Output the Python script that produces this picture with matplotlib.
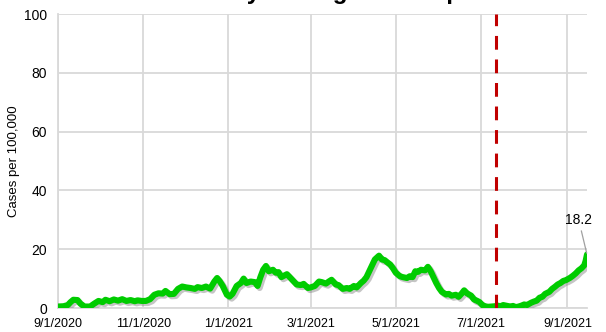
import matplotlib
matplotlib.use('Agg')
import matplotlib.pyplot as plt
import matplotlib.patheffects as pe
import numpy as np
import pandas as pd

plt.rcParams['font.family'] = ['Liberation Sans Narrow', 'Liberation Sans', 'DejaVu Sans']

# daily average case rate, sampled every few days from 9/1/2020
start_date = pd.Timestamp('2020-09-01')
days_since_start = [
    0, 4, 7, 9, 11, 14, 16, 19, 23, 26, 29, 32, 34, 37, 40, 43, 46, 49, 52, 55,
    57, 60, 63, 66, 69, 72, 75, 77, 80, 83, 86, 89, 92, 95, 98, 100, 103, 106, 109, 112,
    114, 116, 118, 121, 123, 125, 128, 131, 133, 135, 138, 141, 143, 145, 147, 149, 151, 154, 156, 158,
    160, 162, 164, 166, 169, 171, 174, 176, 179, 181, 184, 187, 189, 192, 194, 196, 199, 201, 204, 207,
    209, 212, 214, 217, 219, 221, 223, 225, 227, 230, 232, 234, 236, 238, 240, 242, 245, 247, 250, 252,
    254, 256, 258, 260, 263, 265, 267, 269, 271, 273, 275, 278, 280, 282, 285, 287, 289, 291, 293, 296,
    298, 300, 302, 304, 306, 308, 311, 313, 315, 317, 319, 321, 324, 326, 328, 330, 332, 334, 336, 339,
    341, 343, 345, 347, 349, 352, 354, 356, 358, 360, 362, 364, 367, 369, 371, 373, 375, 377, 378, 379,
]
cases_per_100k = [
    0.5, 0.6, 1.0, 2.0, 2.8, 2.7, 1.5, 0.5, 0.5, 1.5, 2.4, 2.0, 2.8, 2.3, 2.9, 2.5, 3.0, 2.4, 2.7, 2.3,
    2.6, 2.4, 2.4, 3.0, 4.5, 5.0, 4.9, 5.8, 4.7, 4.8, 6.5, 7.3, 7.0, 6.8, 6.5, 7.1, 6.8, 7.3, 6.6, 9.0,
    10.2, 9.0, 7.5, 4.5, 3.9, 4.8, 7.5, 8.5, 10.0, 8.5, 9.0, 8.8, 7.5, 10.5, 13.0, 14.3, 12.5, 13.0, 12.0, 12.2,
    10.5, 11.0, 11.5, 10.5, 9.0, 8.0, 7.8, 8.2, 6.8, 7.0, 7.5, 9.0, 8.8, 8.3, 9.0, 9.6, 8.0, 7.8, 6.5, 6.8,
    6.5, 7.5, 7.0, 8.5, 9.3, 10.5, 12.5, 14.5, 16.5, 17.8, 16.5, 16.3, 15.5, 14.8, 13.5, 12.0, 10.8, 10.5, 10.2, 10.8,
    10.5, 12.5, 12.3, 13.0, 12.8, 14.0, 12.5, 10.5, 8.5, 6.8, 5.5, 4.6, 4.8, 4.2, 4.5, 3.8, 4.8, 6.0, 5.0, 4.2,
    2.9, 2.5, 2.0, 1.0, 0.6, 0.4, 0.5, 0.6, 0.8, 0.6, 1.0, 0.8, 0.5, 0.7, 0.3, 0.5, 0.8, 1.2, 1.0, 1.8,
    2.2, 2.5, 3.5, 3.8, 4.8, 5.5, 6.5, 7.2, 8.0, 8.5, 9.2, 9.5, 10.3, 11.0, 11.8, 12.8, 13.5, 14.5, 16.0, 18.2,
]
tick_dates = ['2020-09-01', '2020-11-01', '2021-01-01', '2021-03-01',
              '2021-05-01', '2021-07-01', '2021-09-01']
marker_date = '2021-07-12'
y_ticks = [0, 20, 40, 60, 80, 100]
title = 'Daily Average Cases per 100K'

dates = start_date + pd.to_timedelta(days_since_start, unit='D')

fig = plt.figure(figsize=(6.06, 3.32), dpi=100)
ax = fig.add_axes([58 / 606, 1 - 308 / 332, (587 - 58) / 606, (308 - 14) / 332])

ax.plot(dates, cases_per_100k, color='#00CC00', lw=4.4, solid_joinstyle='round',
        solid_capstyle='round', zorder=3,
        path_effects=[pe.SimpleLineShadow(offset=(1.5, -1.5), shadow_color='#808080', alpha=0.45),
                      pe.Normal()])

ax.axvline(pd.Timestamp(marker_date), color='#C00000', lw=2.2, dashes=(4.5, 3.2), zorder=4)

ax.set_xlim(dates[0], dates[-1])
ax.set_ylim(0, 100)
ticks = pd.to_datetime(tick_dates)
ax.set_xticks(ticks)
ax.set_xticklabels([f'{d.month}/{d.day}/{d.year}' for d in ticks], fontsize=9)
ax.set_yticks(y_ticks)
ax.set_yticklabels([str(v) for v in y_ticks], fontsize=10)
ax.tick_params(length=0, pad=8, colors='#000000')
ax.tick_params(axis='x', pad=7)

ax.grid(True, color='#D9D9D9', lw=1.3)
ax.set_axisbelow(True)
for s in ['top', 'right']:
    ax.spines[s].set_visible(False)
for s in ['left', 'bottom']:
    ax.spines[s].set_color('#D9D9D9')
    ax.spines[s].set_linewidth(1.3)

ax.set_ylabel('Cases per 100,000', fontsize=9.5, labelpad=3)

# label for the latest value
ax.annotate(f'{cases_per_100k[-1]:.1f}', xy=(dates[-1], cases_per_100k[-1]),
            xytext=(-6, 20), textcoords='offset points', ha='center', va='bottom',
            fontsize=10, arrowprops=dict(arrowstyle='-', color='#A0A0A0', lw=0.9,
                                         shrinkA=1, shrinkB=1))

# title sits mostly above the canvas; line up the "y" of "Daily" at x=258px
title_kw = dict(fontsize=17.5, fontweight='bold', family=['Liberation Sans', 'DejaVu Sans'])
renderer = fig.canvas.get_renderer()
probe = fig.text(0, 0, 'Dail', **title_kw)
w_lead = probe.get_window_extent(renderer).width
probe.remove()
probe = fig.text(0, 0, 'y', **title_kw)
w_y = probe.get_window_extent(renderer).width
probe.remove()
fig.text((254 - w_lead - w_y / 2) / 606, 1 + 1 / 332, title, ha='left', va='baseline', **title_kw)

fig.savefig('out.png', dpi=100)
